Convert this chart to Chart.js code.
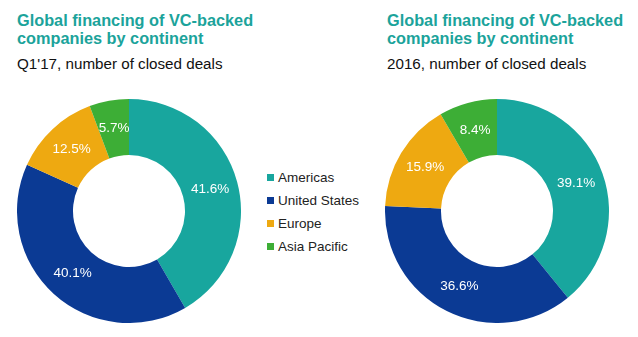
<!DOCTYPE html>
<html>
<head>
<meta charset="utf-8">
<script src="https://cdn.jsdelivr.net/npm/chart.js@4/dist/chart.umd.min.js"></script>
<style>
    body { margin: 0; background: #fff; font-family: "Liberation Sans", Arial, sans-serif; }
    #page { position: relative; width: 638px; height: 337px; overflow: hidden; }
    .title { position: absolute; color: #1ba39b; font-weight: bold; font-size: 16.3px; line-height: 18px; }
    .subtitle { position: absolute; color: #111; font-size: 15.2px; }
    canvas { position: absolute; }
    #legend { position: absolute; left: 267px; top: 170px; font-size: 13.5px; color: #222; }
    #legend div { height: 23px; line-height: 16px; white-space: nowrap; }
    #legend span { display: inline-block; width: 7px; height: 7px; margin-right: 4px; vertical-align: 1px; }
</style>
</head>
<body>
<div id="page">
    <div class="title" style="left:17px; top:11px;">Global financing of VC-backed<br>companies by continent</div>
    <div class="subtitle" style="left:17px; top:55px;">Q1'17, number of closed deals</div>
    <div class="title" style="left:387px; top:11px;">Global financing of VC-backed<br>companies by continent</div>
    <div class="subtitle" style="left:387px; top:55px;">2016, number of closed deals</div>

    <canvas id="chartQ1" width="224" height="224" style="left:17px; top:99px;"></canvas>
    <canvas id="chart2016" width="224" height="224" style="left:385px; top:99px;"></canvas>
    <div id="legend"></div>
</div>

<script>
const regions = ["Americas", "United States", "Europe", "Asia Pacific"];
const colors = ["#18a69e", "#0b3a94", "#eea911", "#3dae36"];
const sharesQ1 = [41.6, 40.1, 12.5, 5.7];
const shares2016 = [39.1, 36.6, 15.9, 8.4];

// Percent labels in the middle of each ring slice
const sliceLabels = {
    id: "sliceLabels",
    afterDatasetsDraw(chart) {
        const ctx = chart.ctx;
        const meta = chart.getDatasetMeta(0);
        const values = chart.data.datasets[0].data;
        ctx.save();
        ctx.fillStyle = "#fff";
        ctx.font = "13.5px 'Liberation Sans', Arial, sans-serif";
        ctx.textAlign = "center";
        ctx.textBaseline = "middle";
        meta.data.forEach((arc, i) => {
            const pos = arc.tooltipPosition();
            ctx.fillText(values[i].toFixed(1) + "%", pos.x, pos.y);
        });
        ctx.restore();
    }
};

function drawDonut(id, values) {
    new Chart(document.getElementById(id), {
        type: "doughnut",
        data: {
            labels: regions,
            datasets: [{
                data: values,
                backgroundColor: colors,
                borderWidth: 0,
                hoverOffset: 0
            }]
        },
        options: {
            responsive: false,
            animation: false,
            cutout: "50%",
            plugins: {
                legend: { display: false },
                tooltip: { enabled: false }
            }
        },
        plugins: [sliceLabels]
    });
}

drawDonut("chartQ1", sharesQ1);
drawDonut("chart2016", shares2016);

// Shared legend between the two rings
const legend = document.getElementById("legend");
regions.forEach((name, i) => {
    let row = document.createElement("div");
    row.innerHTML = `<span style="background:${colors[i]}"></span>${name}`;
    legend.appendChild(row);
});
</script>
</body>
</html>
